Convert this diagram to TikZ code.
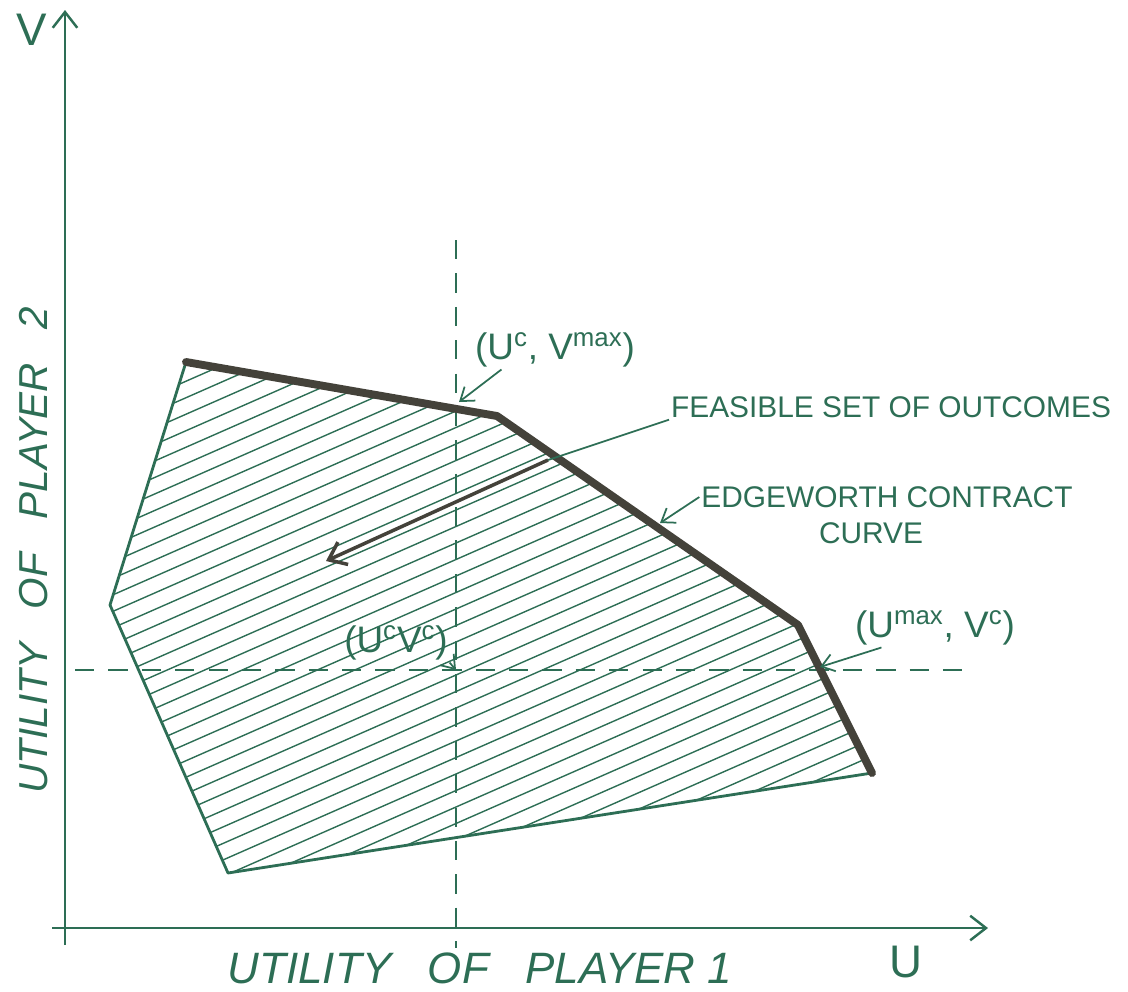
\documentclass[tikz,border=0pt]{standalone}
\usepackage{fontspec}
\setmainfont{Liberation Sans}
\usetikzlibrary{arrows.meta}

\definecolor{ink}{RGB}{45,110,85}
\definecolor{pencil}{RGB}{68,66,58}

\tikzset{
  lbl/.style={text=ink, font=\fontsize{17}{20}\selectfont, inner sep=1pt},
  ptlbl/.style={text=ink, font=\fontsize{21}{25}\selectfont, inner sep=1pt},
  axlbl/.style={text=ink, font=\fontsize{23}{27}\selectfont\itshape, inner sep=0pt},
  guide/.style={ink, line width=1.2pt, dash pattern=on 11pt off 8pt},
  pointer/.style={ink, line width=1pt, -{Straight Barb[length=7pt,width=10pt]}},
  hatch/.style={ink, line width=0.8pt},
}

\begin{document}
\begin{tikzpicture}[x=0.02cm, y=-0.02cm, >={Straight Barb[length=9pt,width=14pt]}]
  \useasboundingbox (0,0) rectangle (1128,991);

  % --- Axes ---
  \coordinate (vbot) at (65,945);
  \coordinate (vtop) at (65,10);
  \coordinate (hleft) at (52,928);
  \coordinate (hright) at (988,928);
  \draw[ink, line width=1.4pt, ->] (vbot) -- (vtop);
  \draw[ink, line width=1.4pt, ->] (hleft) -- (hright);
  \node[text=ink, font=\fontsize{26}{30}\selectfont] (vlab) at (32,30) {V};
  \node[text=ink, font=\fontsize{26}{30}\selectfont] (ulab) at (906,962) {U};
  \node[axlbl, font=\fontsize{25}{29}\selectfont\itshape] (xlab) at (480,968) {UTILITY\ \ \ OF\ \ \ PLAYER 1};
  \node[axlbl, rotate=90] (ylab) at (34,550) {UTILITY\ \ \ OF\ \ \ PLAYER\ \ \ 2};

  % --- Feasible set ---
  \coordinate (A) at (186,362);
  \coordinate (B) at (497,416);
  \coordinate (C) at (798,625);
  \coordinate (D) at (872,773);
  \coordinate (E) at (228,873);
  \coordinate (F) at (110,605);
  \begin{scope}
    \clip (A) -- (B) -- (C) -- (D) -- (E) -- (F) -- cycle;
    \foreach \c in {430,446.5,...,1190}
      \draw[hatch] (0,\c) -- (1128,\c-496);
  \end{scope}

  % --- Conflict point guides ---
  \coordinate (vgtop) at (456,240);
  \coordinate (vgbot) at (456,948);
  \coordinate (hgleft) at (75,670);
  \coordinate (hgright) at (962,670);
  \coordinate (cp) at (456,670);
  \draw[guide] (vgtop) -- (vgbot);
  \draw[guide] (hgleft) -- (hgright);

  % outline: thin part and contract curve
  \draw[ink, line width=1.6pt, line join=round] (D) -- (E) -- (F) -- (A);
  \draw[pencil, line width=4.5pt, line join=round, line cap=round] (A) -- (B) -- (C) -- (D);

  % --- Labels ---
  \node[ptlbl] (ucvmax) at (555,350) {(U\textsuperscript{c}, V\textsuperscript{max})};
  \coordinate (ucvmaxpt) at (459,402);
  \draw[pointer] (ucvmax.200) -- (ucvmaxpt);

  \node[lbl] (feas) at (891,407) {FEASIBLE SET OF OUTCOMES};
  \coordinate (fx) at (548,460);
  \coordinate (fhead) at (326,561);
  \draw[ink, line width=1pt] (feas.south west) -- (fx);
  \draw[pencil, line width=2pt, ->] (fx) -- (fhead);

  \node[lbl] (edge) at (887,497) {EDGEWORTH CONTRACT};
  \node[lbl] (curve) at (871,533) {CURVE};
  \coordinate (ecpt) at (660,523);
  \draw[pointer] (edge.west) -- (ecpt);

  \node[ptlbl] (ucvc) at (396,643) {(U\textsuperscript{c}V\textsuperscript{c})};
  \draw[pointer] (ucvc.-20) -- (cp);

  \node[ptlbl] (umaxvc) at (935,628) {(U\textsuperscript{max}, V\textsuperscript{c})};
  \coordinate (umaxpt) at (820,667);
  \draw[pointer] (umaxvc.200) -- (umaxpt);
\end{tikzpicture}
\end{document}
